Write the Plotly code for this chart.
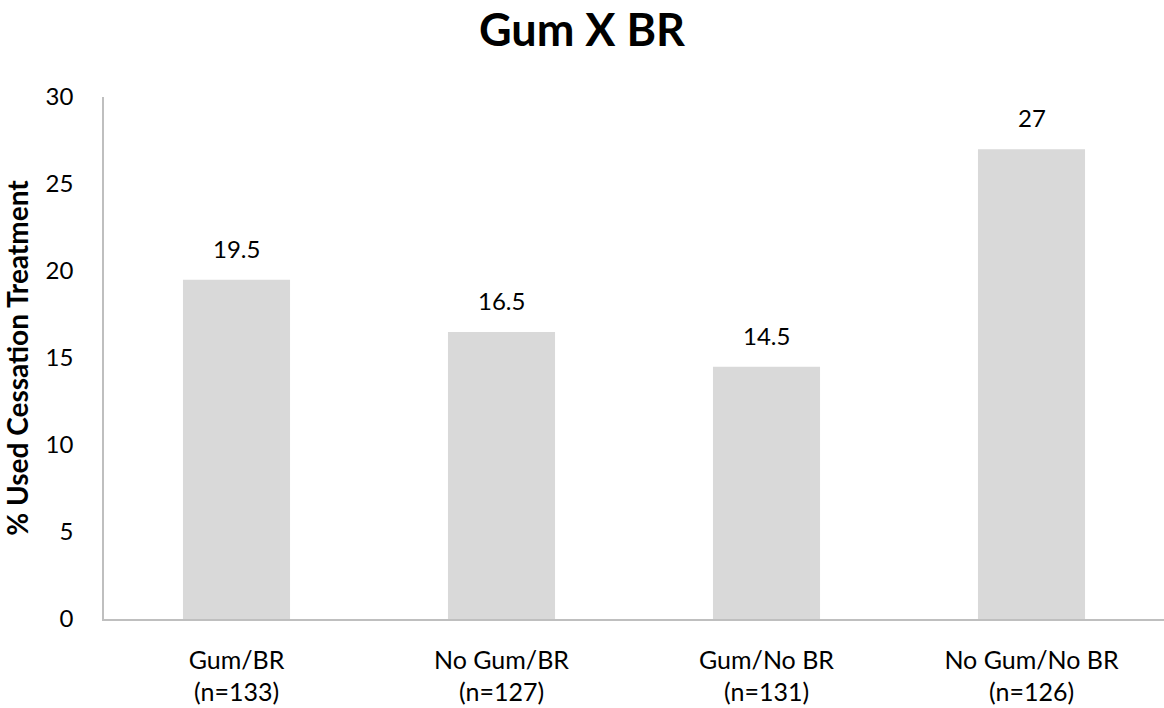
import plotly.graph_objects as go

# Treatment groups and share who used a cessation treatment
categories = ["Gum/BR<br>(n=133)", "No Gum/BR<br>(n=127)", "Gum/No BR<br>(n=131)", "No Gum/No BR<br>(n=126)"]
values = [19.5, 16.5, 14.5, 27]
labels = ["19.5", "16.5", "14.5", "27"]
y_ticks = [0, 5, 10, 15, 20, 25, 30]

FONT = "Lato, 'Open Sans', sans-serif"

fig = go.Figure(
    go.Bar(
        x=categories,
        y=values,
        marker=dict(color="#d9d9d9", line=dict(width=0)),
        hoverinfo="skip",
    )
)

# Value labels above each bar
for cat, val, lab in zip(categories, values, labels):
    fig.add_annotation(
        x=cat, y=val, text=lab, showarrow=False,
        yanchor="bottom", yshift=15,
        font=dict(family=FONT, size=24, color="#000000"),
    )

fig.update_layout(
    width=1164, height=708,
    margin=dict(l=104, r=0, t=97, b=89),
    paper_bgcolor="white", plot_bgcolor="white",
    bargap=0.596,
    showlegend=False,
    title=dict(
        text="<b>Gum X BR</b>",
        x=0.5, xanchor="center", y=0.957, yanchor="middle",
        font=dict(family=FONT, size=45, color="#000000"),
    ),
    font=dict(family=FONT, color="#000000"),
)

fig.update_yaxes(
    range=[0, 30], tickvals=y_ticks,
    showgrid=False, zeroline=False,
    showline=True, linecolor="#bfbfbf", linewidth=1.5,
    ticks="", ticklabelstandoff=24,
    tickfont=dict(family=FONT, size=24, color="#000000"),
    title=dict(text="<b>% Used Cessation Treatment</b>", standoff=13,
               font=dict(family=FONT, size=28, color="#000000")),
)

fig.update_xaxes(
    showgrid=False, zeroline=False,
    showline=True, linecolor="#bfbfbf", linewidth=1.5,
    ticks="", ticklabelstandoff=18,
    tickfont=dict(family=FONT, size=25, color="#000000"),
)

fig.write_html("out.html")
